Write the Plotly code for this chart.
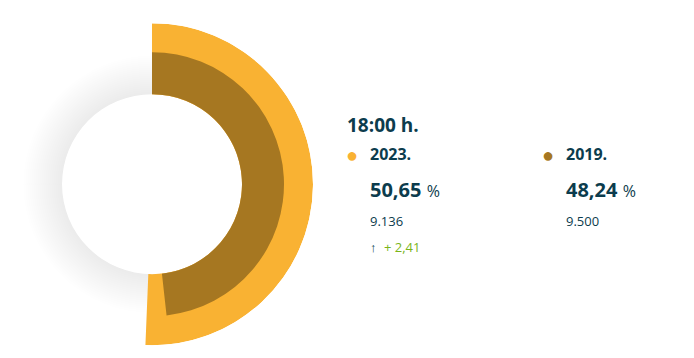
import plotly.graph_objects as go

# ---- data ----
time_label = "18:00 h."
years = ["2023.", "2019."]
shares = [50.65, 48.24]          # percent
counts = ["9.136", "9.500"]
diff_label = "+ 2,41"
colors = ["#F9B233", "#A67721"]

W, H = 694, 358
TXT = "#0c3c4d"
GREEN = "#7ab51a"

def fx(px):
    return px / W

def fy(py):
    return 1 - py / H

fig = go.Figure()

# ---- base disc with soft shadow (polar 1, full circle) ----
for k in range(1, 21):
    fig.add_trace(go.Barpolar(
        r=[2 * k], base=[89], theta=[0], width=[360],
        marker=dict(color="rgba(0,0,0,0.002)", line=dict(width=0)),
        subplot="polar", hoverinfo="skip", showlegend=False))
fig.add_trace(go.Barpolar(
    r=[90], base=[0], theta=[0], width=[360],
    marker=dict(color="white", line=dict(width=0)),
    subplot="polar", hoverinfo="skip", showlegend=False))

# ---- arcs (polar 2, right sector) ----
thick = [71, 42]
for yr, s, c, t in zip(years, shares, colors, thick):
    fig.add_trace(go.Barpolar(
        r=[t], base=[90], theta=[s * 3.6 / 2], width=[s * 3.6],
        marker=dict(color=c, line=dict(width=0)),
        name=yr, subplot="polar2", showlegend=False))

cx, cy, R = 152, 184.2, 161
R1 = 152
axis_off = dict(visible=False, showgrid=False, showline=False, showticklabels=False, ticks="")
fig.update_layout(
    width=W, height=H, margin=dict(l=0, r=0, t=0, b=0),
    paper_bgcolor="white", plot_bgcolor="white",
    polar=dict(
        domain=dict(x=[fx(cx - R1), fx(cx + R1)], y=[fy(cy + R1), fy(cy - R1)]),
        bgcolor="rgba(0,0,0,0)",
        radialaxis=dict(range=[0, R1], **axis_off),
        angularaxis=dict(rotation=90, direction="clockwise", **axis_off),
        barmode="overlay",
    ),
    polar2=dict(
        domain=dict(x=[fx(cx - 0.08716 * R), fx(cx + R)], y=[fy(cy + R), fy(cy - R)]),
        sector=[-95, 95],
        bgcolor="rgba(0,0,0,0)",
        radialaxis=dict(range=[0, R], **axis_off),
        angularaxis=dict(rotation=90, direction="clockwise", **axis_off),
        barmode="overlay",
    ),
    font=dict(family="Open Sans", color=TXT),
)

def ann(text, px, py, size, color=TXT, bold=False):
    fig.add_annotation(
        text=f"<b>{text}</b>" if bold else text,
        x=fx(px), y=fy(py), xref="paper", yref="paper",
        xanchor="left", yanchor="middle", showarrow=False,
        font=dict(family="Open Sans", size=size, color=color))

ann(time_label, 345, 125, 19, bold=True)
col_x = [368, 564]
for i, (yr, s, cnt, c) in enumerate(zip(years, shares, counts, colors)):
    x = col_x[i]
    ann("●", x - 24, 154, 20, color=c)
    ann(yr, x, 154, 16, bold=True)
    val = f"{s:.2f}".replace(".", ",")
    ann(f"<b>{val}</b> <span style='font-size:16px'>%</span>", x, 189, 20)
    ann(cnt, x, 221, 13)

ann("↑", col_x[0], 247, 13, color=TXT, bold=True)
ann(diff_label, col_x[0] + 14, 247, 13, color=GREEN)

fig.write_html("out.html", config={"displayModeBar": False},
               post_script="document.body.style.margin='0';")
